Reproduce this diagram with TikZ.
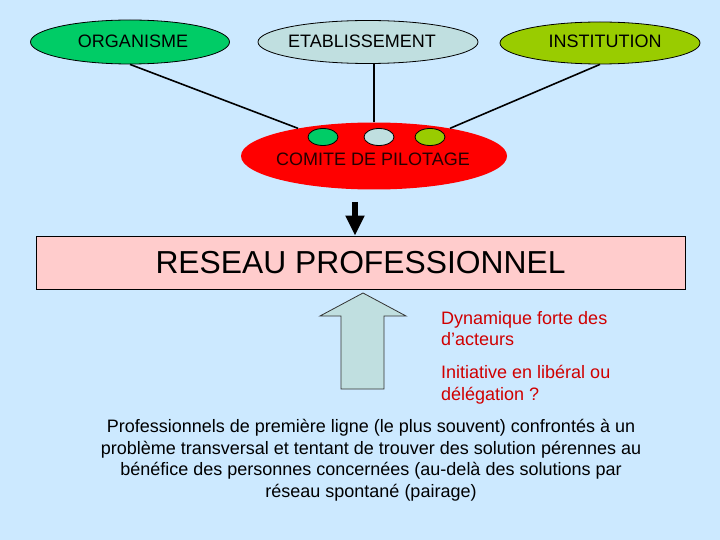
\documentclass[tikz,border=0pt]{standalone}
\usepackage{fontspec}
\setmainfont{Liberation Sans}
\usetikzlibrary{shapes.geometric,arrows.meta}
\definecolor{bg}{HTML}{CCE9FF}
\definecolor{orgc}{HTML}{00CC66}
\definecolor{etabc}{HTML}{C0DFE0}
\definecolor{instc}{HTML}{99CC00}
\definecolor{pinkc}{HTML}{FFCCCC}
\definecolor{redtxt}{HTML}{D00000}
\tikzset{
  oval/.style={ellipse, draw=black, line width=0.8pt, inner sep=0pt, font=\fontsize{18}{21}\selectfont},
  dot/.style={ellipse, draw=black, line width=0.8pt, inner sep=0pt, minimum width=30pt, minimum height=17pt},
  link/.style={draw=black, line width=1.6pt},
  txt/.style={inner sep=0pt, font=\fontsize{18}{21.7}\selectfont}
}
\begin{document}
\begin{tikzpicture}[x=1pt,y=-1pt]
\fill[bg] (0,0) rectangle (720,540);
\useasboundingbox (0,0) rectangle (720,540);
% top ovals
\node[oval, fill=orgc, minimum width=199pt, minimum height=44pt] (org) at (130,42) {};
\node[txt] (orgt) at (133,41) {ORGANISME};
\node[oval, fill=etabc, minimum width=220pt, minimum height=43pt] (etab) at (368,42) {};
\node[txt] (etabt) at (362,41) {ETABLISSEMENT};
\node[oval, fill=instc, minimum width=200pt, minimum height=42pt] (inst) at (600,43) {};
\node[txt] (instt) at (605,41) {INSTITUTION};
% comite
\node[ellipse, fill=red, inner sep=0pt, minimum width=266pt, minimum height=67pt] (com) at (374,156) {};
\draw[link] (org.south) -- (com.160);
\draw[link] (com.north |- etab.south) -- (com.north);
\draw[link] (inst.south) -- (com.20);
\node[txt, text=black!85!red] (comt) at (373,159) {COMITE DE PILOTAGE};
\node[dot, fill=orgc] (d1) at (323,137) {};
\node[dot, fill=etabc] (d2) at (379,137) {};
\node[dot, fill=instc] (d3) at (430,137) {};
% reseau box
\node[draw=black, fill=pinkc, line width=0.8pt, minimum width=649pt, minimum height=53pt, inner sep=0pt,
      font=\fontsize{31.8}{36}\selectfont] (res) at (360.5,262.5) {RESEAU PROFESSIONNEL};
% down arrow
\coordinate (dstart) at (355,202);
\draw[line width=6pt, -{Triangle[length=20pt,width=18pt]}] (dstart) -- (dstart |- res.north);
% up block arrow
\draw[fill=etabc, draw=black!80, line width=0.8pt]
  (363,293) -- (406,316) -- (384,316) -- (384,389) -- (341,389) -- (341,316) -- (320,316) -- cycle;
% red text
\node[txt, text=redtxt, align=left, anchor=north west] (dyn) at (441,311) {Dynamique forte des\\d’acteurs};
\node[txt, text=redtxt, align=left, anchor=north west] (ini) at (441,365) {Initiative en libéral ou\\délégation ?};
% bottom paragraph
\node[txt, align=center, anchor=north] (para) at (371,419) {Professionnels de première ligne (le plus souvent) confrontés à un\\problème transversal et tentant de trouver des solution pérennes au\\bénéfice des personnes concernées (au-delà des solutions par\\réseau spontané (pairage)};
\end{tikzpicture}
\end{document}
